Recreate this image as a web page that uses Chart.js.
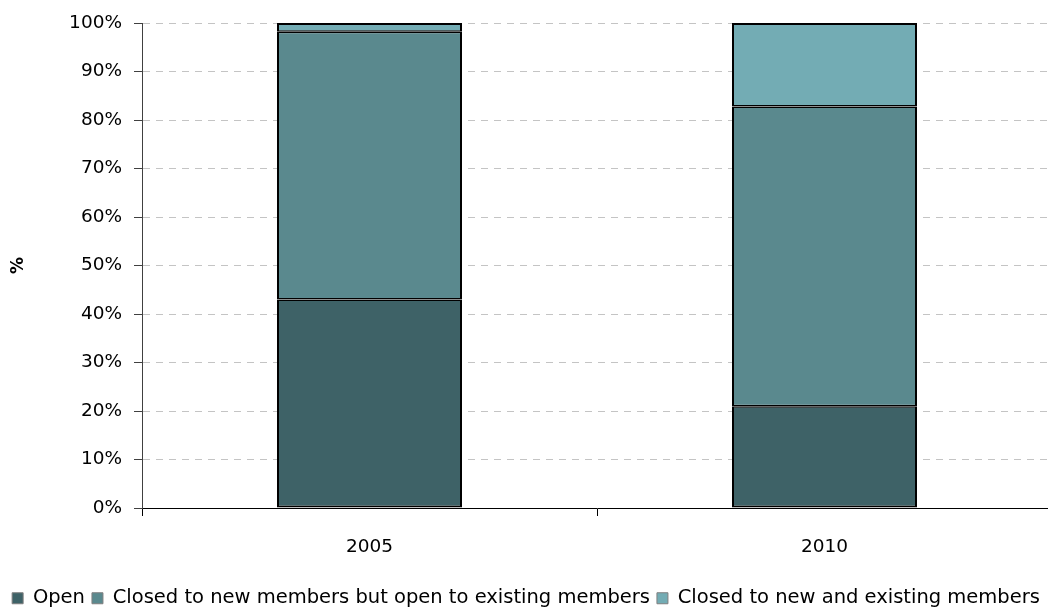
<!DOCTYPE html>
<html>
<head>
<meta charset="utf-8">
<script src="https://cdn.jsdelivr.net/npm/chart.js@4"></script>
<style>
  html, body { margin: 0; padding: 0; background: #fff; overflow: hidden; }
  #wrap { width: 1052px; height: 610px; }
</style>
</head>
<body>
<div id="wrap"><canvas id="c"></canvas></div>
<script>
// Share of schemes by membership status
const years = ['2005', '2010'];
const openShare = [43, 21];
const closedNewShare = [55.2, 61.8];
const closedAllShare = [1.8, 17.2];
const seriesNames = [
  'Open',
  'Closed to new members but open to existing members',
  'Closed to new and existing members'
];
const seriesColors = ['#3e6267', '#5a898e', '#73acb4'];

const FONT = 'DejaVu Sans';
const TICK_SIZE = 18.5;
const LAST = 2;
// Plot area edges in canvas pixels
const AREA_TOP = 20;
const AREA_BOTTOM = 508;
const AREA_LEFT = 142;
const LEGEND_DROP = 8;

// Outer outline 2px; shared edges between stacked segments add up to 3px
function segmentBorder(ctx) {
  const i = ctx.datasetIndex;
  return {
    left: 2,
    right: 2,
    top: i === LAST ? 2 : 1.5,
    bottom: i === 0 ? 2 : 1.5
  };
}

const datasets = [openShare, closedNewShare, closedAllShare].map((vals, i) => ({
  label: seriesNames[i],
  data: vals,
  backgroundColor: seriesColors[i],
  borderColor: '#000',
  borderWidth: segmentBorder,
  borderSkipped: false,
  inflateAmount: 0,
  categoryPercentage: 1,
  barPercentage: 185 / 455
}));

const chart = new Chart(document.getElementById('c'), {
  type: 'bar',
  data: { labels: years, datasets },
  options: {
    responsive: true,
    maintainAspectRatio: false,
    animation: false,
    layout: { padding: { top: AREA_TOP, right: 0, left: 0, bottom: -LEGEND_DROP } },
    plugins: {
      tooltip: { enabled: false },
      legend: {
        position: 'bottom',
        labels: {
          font: { family: FONT, size: 19.5 },
          color: '#000',
          boxWidth: 11,
          boxHeight: 11,
          padding: 7,
          generateLabels(c) {
            return c.data.datasets.map((d, i) => ({
              text: d.label,
              fillStyle: d.backgroundColor,
              strokeStyle: '#7f7f7f',
              lineWidth: 1,
              datasetIndex: i
            }));
          }
        }
      }
    },
    scales: {
      x: {
        stacked: true,
        afterFit(scale) {
          const lg = scale.chart.legend;
          scale.height = 610 + LEGEND_DROP - AREA_BOTTOM - (lg ? lg.height : 0);
        },
        grid: {
          drawOnChartArea: false,
          drawTicks: true,
          tickLength: 8,
          tickColor: '#000',
          offset: true
        },
        border: { color: '#000', width: 1 },
        ticks: {
          font: { family: FONT, size: TICK_SIZE },
          color: '#000',
          padding: 20
        }
      },
      y: {
        stacked: true,
        min: 0,
        max: 100,
        afterFit(scale) { scale.width = AREA_LEFT; },
        grid: {
          color: '#c4c4c4',
          lineWidth: 1,
          drawTicks: true,
          tickLength: 8,
          tickColor: '#404040',
          tickBorderDash: []
        },
        border: { color: '#404040', width: 1, dash: [7, 6] },
        ticks: {
          stepSize: 10,
          font: { family: FONT, size: TICK_SIZE },
          color: '#000',
          padding: 12,
          callback: v => v + '%'
        },
        title: {
          display: true,
          text: '%',
          font: { family: FONT, size: 17, weight: 'bold' },
          color: '#000',
          padding: { top: 8, bottom: 0 }
        }
      }
    }
  }
});

// Pin the top of the plot area if tick-label overflow pushed it down
const drift = chart.chartArea.top - AREA_TOP;
if (Math.abs(drift) > 0.01) {
  chart.options.layout.padding.top = AREA_TOP - drift;
  chart.update();
}
</script>
</body>
</html>
